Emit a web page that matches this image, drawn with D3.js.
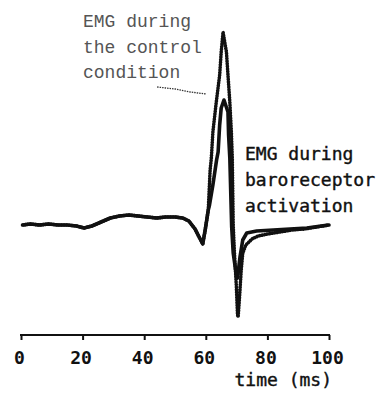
<!DOCTYPE html>
<html>
<head>
<meta charset="utf-8">
<script src="https://cdn.jsdelivr.net/npm/d3@7"></script>
<style>
  body { margin: 0; background: #fff; }
  svg { display: block; }
  .axis path, .axis line { stroke: #111; stroke-width: 2; }
  .axis text { font-family: "DejaVu Sans Mono", monospace; font-size: 18px; font-weight: bold; fill: #111; }
  .label { font-family: "DejaVu Sans Mono", monospace; font-size: 18px; fill: #111; stroke: #111; stroke-width: 0.4; }
  .label.thin { font-family: "Liberation Mono", monospace; fill: #555; stroke: none; }
</style>
</head>
<body>
<div id="chart"></div>
<script>
// shared part of both traces (before the spike), time in ms, EMG in arbitrary units
const baseTime = [0.5, 3, 6, 9, 12, 15, 18, 20.5, 23, 26, 29, 32, 35, 38, 41, 44, 47, 50, 52.5, 54.5, 56.5, 58, 59, 59.8, 60.8];
const baseEmg  = [0, 0.01, 0, 0.01, 0, 0, -0.01, -0.03, -0.01, 0.03, 0.07, 0.09, 0.10, 0.09, 0.08, 0.07, 0.08, 0.08, 0.07, 0.04, -0.04, -0.13, -0.19, -0.05, 0.15];

// control condition
const controlTime = [61.4, 61.8, 62.3, 63.4, 64.5, 65.0, 65.6, 66.7, 67.2, 67.8, 68.3, 68.6, 68.9, 69.3, 69.9, 70.3, 70.5, 71.0, 71.5, 72.0, 73, 75, 77, 80, 84, 88, 92, 96, 100];
const controlEmg  = [0.55, 0.67, 0.93, 1.23, 1.50, 1.73, 1.93, 1.73, 1.50, 1.23, 0.93, 0.67, 0.0, -0.28, -0.60, -0.90, -0.92, -0.70, -0.45, -0.28, -0.20, -0.14, -0.11, -0.09, -0.07, -0.05, -0.04, -0.02, 0];

// baroreceptor activation
const baroTime = [61.2, 62.3, 63.5, 64.0, 64.5, 65.0, 65.9, 67.2, 67.4, 67.8, 68.4, 68.9, 70.0, 70.3, 71.1, 72.0, 73.3, 76.5, 81.9, 87.3, 92.8, 99.8];
const baroEmg  = [0.20, 0.40, 0.65, 0.73, 1.00, 1.17, 1.25, 1.13, 0.90, 0.67, -0.02, -0.28, -0.52, -0.53, -0.32, -0.15, -0.08, -0.06, -0.05, -0.04, -0.03, 0];

const xTicks = [0, 20, 40, 60, 80, 100];

const width = 382, height = 393;
const svg = d3.select("#chart").append("svg")
    .attr("width", width).attr("height", height);
svg.append("rect").attr("width", width).attr("height", height).attr("fill", "#fff");

const xScale = d3.scaleLinear().domain([0, 100]).range([21, 329]);
const yScale = d3.scaleLinear().domain([-1, 2]).range([325, 25]);
const axisY = 335;

function toPoints(ts, vs) {
  return ts.map((t, i) => [t, vs[i]]);
}
const base = toPoints(baseTime, baseEmg);
const control = base.concat(toPoints(controlTime, controlEmg));
const baro = base.concat(toPoints(baroTime, baroEmg));

const line = d3.line().curve(d3.curveLinear)
    .x(d => xScale(d[0]))
    .y(d => yScale(d[1]));

// baroreceptor trace, solid
svg.append("path")
    .datum(baro)
    .attr("fill", "none")
    .attr("stroke", "#111")
    .attr("stroke-width", 3.6)
    .attr("stroke-linejoin", "round")
    .attr("d", line);

// control trace, beaded look
svg.append("path")
    .datum(control)
    .attr("fill", "none")
    .attr("stroke", "#111")
    .attr("stroke-width", 3.6)
    .attr("stroke-linecap", "round")
    .attr("stroke-linejoin", "round")
    .attr("stroke-dasharray", "0.3,2.3")
    .attr("d", line);

// x axis
const xAxis = d3.axisBottom(xScale)
    .tickValues(xTicks)
    .tickSize(5)
    .tickSizeOuter(0)
    .tickPadding(11);
const gx = svg.append("g")
    .attr("class", "axis")
    .attr("transform", "translate(0," + axisY + ")")
    .call(xAxis);
gx.select(".domain").attr("d", "M" + (xScale(0) - 1) + ",0H" + (xScale(100) + 1));
gx.selectAll(".tick text").attr("dx", -2);

svg.append("text")
    .attr("class", "label")
    .attr("x", xScale(100) + 3)
    .attr("y", 386)
    .attr("text-anchor", "end")
    .text("time (ms)");

// annotation: control condition
const ctrlLines = ["EMG during", "the control", "condition"];
svg.append("g").selectAll("text")
  .data(ctrlLines)
  .join("text")
    .attr("class", "label thin")
    .attr("x", 83)
    .attr("y", (d, i) => 27 + i * 25.5)
    .text(d => d);

const leader = [[44.2, 1.38], [50, 1.36], [55, 1.33], [60.1, 1.31]];
svg.append("path")
    .datum(leader)
    .attr("fill", "none")
    .attr("stroke", "#333")
    .attr("stroke-width", 1.3)
    .attr("stroke-dasharray", "1.5,1")
    .attr("d", line);

// annotation: baroreceptor activation
const baroLines = ["EMG during", "baroreceptor", "activation"];
svg.append("g").selectAll("text")
  .data(baroLines)
  .join("text")
    .attr("class", "label")
    .attr("x", 245)
    .attr("y", (d, i) => 160 + i * 26)
    .text(d => d);
</script>
</body>
</html>
